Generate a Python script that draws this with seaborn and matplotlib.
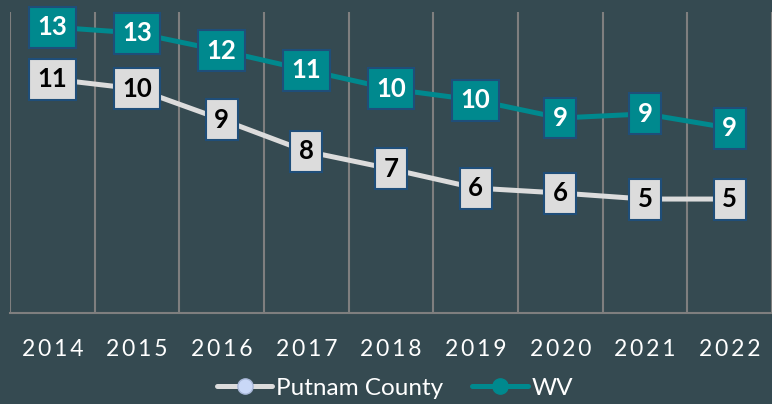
import numpy as np
import pandas as pd
import seaborn as sns
import matplotlib.pyplot as plt
from matplotlib.lines import Line2D

# values (labels show rounded numbers)
years = ["2014", "2015", "2016", "2017", "2018", "2019", "2020", "2021", "2022"]
putnam = [10.88, 10.42, 9.0, 7.52, 6.7, 5.81, 5.58, 5.3, 5.3]
wv = [13.3, 13.02, 12.2, 11.3, 10.42, 9.9, 9.07, 9.26, 8.6]

bg = "#354A51"
grid_col = "#7F7F7F"
teal = "#00898E"
light = "#DCDCDC"
edge = "#1F4E79"

sns.set_theme(style="white")
plt.rcParams["font.family"] = ["Lato", "DejaVu Sans"]

df = pd.DataFrame({
    "year": list(range(len(years))) * 2,
    "value": putnam + wv,
    "series": ["Putnam County"] * len(years) + ["WV"] * len(years),
})

fig = plt.figure(figsize=(7.72, 4.04), dpi=100, facecolor=bg)
ax = fig.add_axes([10 / 772, 91 / 404, 762 / 772, 301 / 404])
ax.set_facecolor(bg)

sns.lineplot(data=df, x="year", y="value", hue="series",
             palette={"Putnam County": light, "WV": teal},
             linewidth=3.6, legend=False, ax=ax)

# data label boxes
box_kw = dict(ha="center", va="center", fontsize=18.5, fontweight="bold", zorder=5)
for i, v in enumerate(putnam):
    ax.text(i, v, f"{round(v)}", color="black",
            bbox=dict(boxstyle="square,pad=0.33", fc=light, ec=edge, lw=1.5), **box_kw)
for i, v in enumerate(wv):
    ax.text(i, v, f"{round(v)}", color="white",
            bbox=dict(boxstyle="square,pad=0.33", fc=teal, ec=edge, lw=1.5), **box_kw)

ax.set_ylim(0, 14)
ax.set_xlim(-0.5, -0.5 + 762 / 85.3)
ax.set_yticks([])
ax.set_xticks(np.arange(-0.5, len(years), 1.0))
ax.set_xticklabels([])
ax.set_xticks(range(len(years)), minor=True)
ax.set_xticklabels(["\u2009".join(y) for y in years], minor=True,
                   fontsize=16.5, color="white")
ax.tick_params(axis="x", which="major", length=6.5, width=1.5, color=grid_col)
ax.tick_params(axis="x", which="minor", length=0, pad=19)
ax.xaxis.grid(True, which="major", color=grid_col, linewidth=1.5)
ax.set_xlabel("")
ax.set_ylabel("")

for s in ["top", "right", "left"]:
    ax.spines[s].set_visible(False)
ax.spines["bottom"].set_color(grid_col)
ax.spines["bottom"].set_linewidth(1.5)

handles = [
    Line2D([], [], color=light, lw=3.6, marker="o", markersize=11,
           markerfacecolor="#C9D8F7", markeredgecolor="#A9B8D8"),
    Line2D([], [], color=teal, lw=3.6, marker="o", markersize=11,
           markerfacecolor=teal, markeredgecolor=teal),
]
fig.legend(handles, ["Putnam County", "WV"], loc="center",
           bbox_to_anchor=(395 / 772, 1 - 388 / 404), ncol=2, frameon=False,
           fontsize=17.5, labelcolor="white", handlelength=2.3,
           handletextpad=0.15, columnspacing=1.2)

fig.savefig("out.png", dpi=100, facecolor=bg)
